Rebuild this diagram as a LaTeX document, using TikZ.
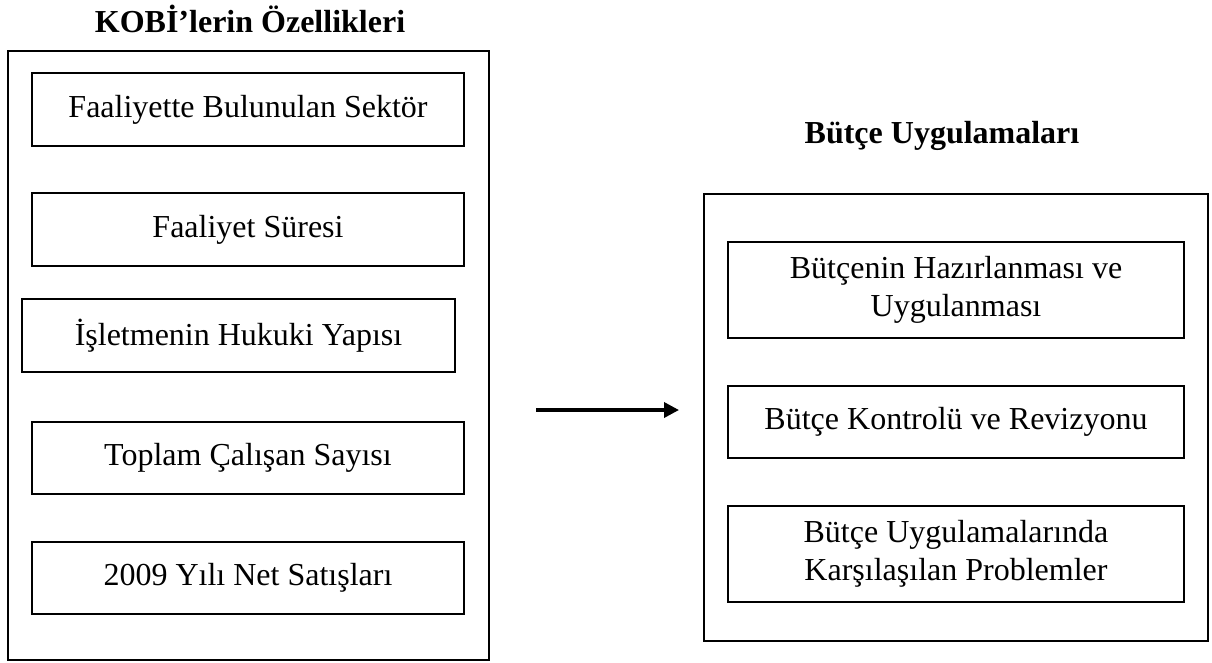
\documentclass[tikz,border=0pt]{standalone}
\usepackage{fontspec}
\setmainfont{Liberation Serif}
\usetikzlibrary{arrows.meta}
\tikzset{
  frame/.style={draw, line width=2pt, rectangle, inner sep=0pt},
  item/.style={draw, line width=2pt, rectangle, inner sep=0pt, align=center,
    font=\fontsize{32}{38}\selectfont},
  heading/.style={inner sep=0pt, anchor=base, font=\bfseries\fontsize{32}{38}\selectfont},
  flow/.style={line width=3.5pt, -{Triangle[length=15pt,width=15pt]}}
}
\begin{document}
\begin{tikzpicture}[x=1pt,y=-1pt]
\useasboundingbox (0,0) rectangle (1212,662);

% left group: characteristics of SMEs
\node[heading] (ltitle) at (250,32) {KOBİ’lerin Özellikleri};
\node[frame, minimum width=481pt, minimum height=609pt] (lframe) at (248.5,355) {};
\node[item, minimum width=432pt, minimum height=73pt] (l1) at (248,109.5) {Faaliyette Bulunulan Sektör};
\node[item, minimum width=432pt, minimum height=73pt] (l2) at (248,229.5) {Faaliyet Süresi};
\node[item, minimum width=433pt, minimum height=73pt] (l3) at (238.5,335.5) {İşletmenin Hukuki Yapısı};
\node[item, minimum width=432pt, minimum height=72pt] (l4) at (248,458) {Toplam Çalışan Sayısı};
\node[item, minimum width=432pt, minimum height=72pt] (l5) at (248,578) {2009 Yılı Net Satışları};

% right group: budget practices
\node[heading] (rtitle) at (942,143) {Bütçe Uygulamaları};
\node[frame, minimum width=504pt, minimum height=447pt] (rframe) at (956,417.5) {};
\node[item, minimum width=456pt, minimum height=96pt] (r1) at (956,290) {Bütçenin Hazırlanması ve\\Uygulanması};
\node[item, minimum width=456pt, minimum height=72pt] (r2) at (956,422) {Bütçe Kontrolü ve Revizyonu};
\node[item, minimum width=456pt, minimum height=96pt] (r3) at (956,554) {Bütçe Uygulamalarında\\Karşılaşılan Problemler};

% link between the two groups
\coordinate (astart) at (536,410);
\coordinate (aend) at (679,410);
\draw[flow] (astart) -- (aend);
\end{tikzpicture}
\end{document}
